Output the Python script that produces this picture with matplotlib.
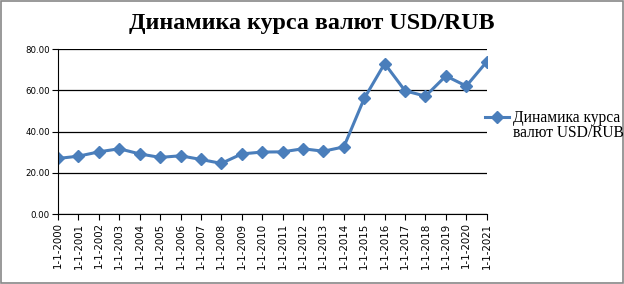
import matplotlib.pyplot as plt
from matplotlib.patches import Rectangle

years = list(range(2000, 2022))
labels = ["1-1-%d" % y for y in years]
rate = [27.0, 28.1, 30.2, 31.7, 29.2, 27.5, 28.3, 26.5, 24.6, 29.2, 30.1,
        30.2, 31.7, 30.5, 32.6, 56.1, 73.0, 59.8, 57.2, 67.0, 62.1, 73.9]

blue = "#4a7ebb"
serif = "Liberation Serif"

fig = plt.figure(figsize=(6.24, 2.84), dpi=100)
ax = fig.add_axes([0.093, 0.246, 0.687, 0.581])

x = list(range(len(years)))
ax.plot(x, rate, color=blue, lw=2.2, marker="D", ms=6, label="Динамика курса")

ax.set_xlim(0, len(years) - 1)
ax.set_ylim(0, 80)
ax.set_yticks([0, 20, 40, 60, 80])
ax.set_yticklabels(["%.2f" % v for v in [0, 20, 40, 60, 80]], fontsize=6.2)
ax.set_xticks(x)
ax.set_xticklabels(labels, rotation=90, fontsize=7.4)
ax.yaxis.grid(True, color="black", lw=0.9)
ax.set_axisbelow(True)
for s in ["top", "right"]:
    ax.spines[s].set_visible(False)
ax.spines["left"].set_color("black")
ax.spines["bottom"].set_color("black")
ax.tick_params(length=4, width=0.8, color="black", pad=2)

fig.suptitle("Динамика курса валют USD/RUB", x=0.50, y=0.955,
             fontsize=17.3, fontweight="bold", family=serif)

# legend label runs onto a second line, handle sits at the first line
leg = ax.legend(loc="center left", bbox_to_anchor=(0.995, 0.582), frameon=False,
                prop={"family": serif, "size": 11.2}, borderpad=0,
                handlelength=1.6, handletextpad=0.2, borderaxespad=0)
fig.canvas.draw()
bb = leg.get_texts()[0].get_window_extent()
W, H = fig.bbox.width, fig.bbox.height
fig.text(bb.x0 / W, (bb.y0 - 15) / H, "валют USD/RUB", family=serif,
         fontsize=11.2, ha="left", va="bottom")

fig.patches.append(Rectangle((0.001, 0.002), 0.997, 0.995, transform=fig.transFigure,
                             fill=False, edgecolor="#888888", lw=1.2))

fig.savefig("out.png", dpi=100)
